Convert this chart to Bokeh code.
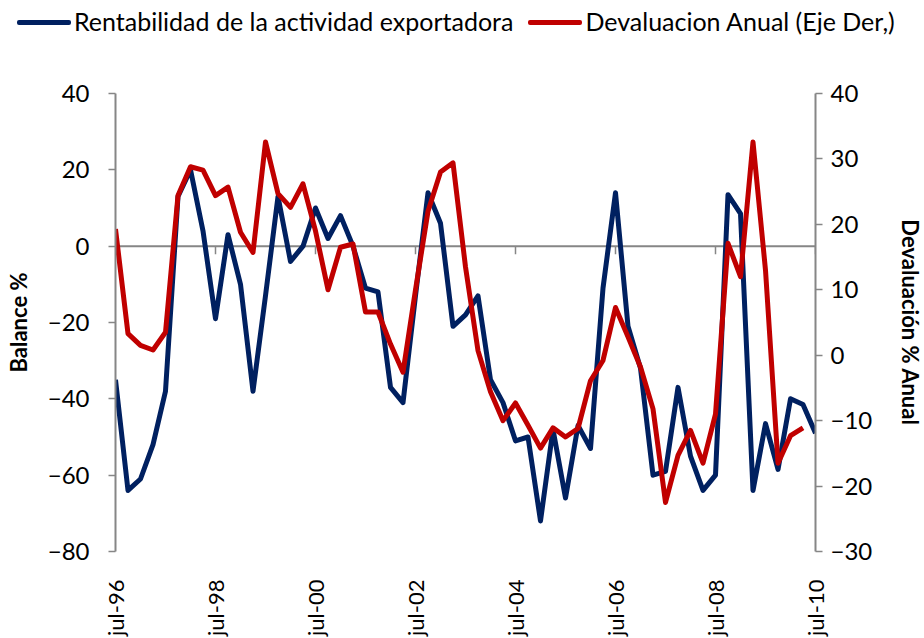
import math
from bokeh.plotting import figure
from bokeh.layouts import column
from bokeh.models import Range1d, LinearAxis, FixedTicker, Span, ColumnDataSource, Div
from bokeh.embed import file_html
from bokeh.resources import INLINE

# ---- data (quarterly, jul-96 .. jul-10) ----
tick_labels = ["jul-96", "jul-98", "jul-00", "jul-02", "jul-04", "jul-06", "jul-08", "jul-10"]
tick_step = 8  # quarters between labelled ticks

rentabilidad = [-35, -64, -61, -52, -38, 13, 20, 4, -19, 3,
                -10, -38, -13, 13, -4, 0, 10, 2, 8, 0,
                -11, -12, -37, -41, -13, 14, 6, -21, -18, -13,
                -35, -41, -51, -50, -72, -48, -66, -47, -53, -11,
                14, -21, -32, -60, -59, -37, -55, -64, -60, 13.5,
                8.5, -64, -46.5, -58.5, -40, -41.5, -49]

devaluacion = [19.3, 3.3, 1.5, 0.8, 3.5, 24.4, 28.8, 28.3, 24.4, 25.7,
               18.8, 15.7, 32.6, 24.7, 22.6, 26.2, 19, 10, 16.5, 17,
               6.6, 6.6, 1.7, -2.6, 10, 22, 28, 29.4, 13.5, 0.7,
               -5.6, -10, -7.3, -10.7, -14.2, -11.1, -12.5, -11.2, -3.9, -0.8,
               7.3, 2.8, -1.8, -8.2, -22.5, -15.3, -11.5, -16.5, -9, 17.1,
               12, 32.6, 13, -16.5, -12.3, -11.1]

series_names = ["Rentabilidad de la actividad exportadora", "Devaluacion Anual (Eje Der,)"]
left_title = "Balance %"
right_title = "Devaluación % Anual"

FONT = "Lato"
GRAY = "#868686"
BLUE = "#002060"
RED = "#C00000"
LW = 5

x_blue = list(range(len(rentabilidad)))
x_red = list(range(len(devaluacion)))
ticks = [i * tick_step for i in range(len(tick_labels))]

LEG_H = 44
TOTAL_W = 924

# ---------------- main chart ----------------
p = figure(frame_width=700, frame_height=458, output_backend="svg", toolbar_location=None,
           x_range=Range1d(0, len(rentabilidad) - 1), y_range=Range1d(-80, 40),
           min_border_left=115, min_border_right=TOTAL_W - 815, min_border_top=93 - LEG_H,
           min_border_bottom=85)
p.outline_line_color = None
p.xgrid.visible = False
p.ygrid.visible = False
p.background_fill_color = "white"
p.border_fill_color = "white"

p.extra_y_ranges = {"right": Range1d(-30, 40)}

# zero line (category axis crossing) with its tick marks
zero = Span(location=0, dimension="width", line_color=GRAY, line_width=2, level="underlay")
p.add_layout(zero)
tick_src = ColumnDataSource(dict(x=ticks, y0=[0] * len(ticks), y1=[-2.1] * len(ticks)))
p.segment(x0="x", y0="y0", x1="x", y1="y1", source=tick_src, line_color=GRAY, line_width=1.5,
          level="underlay")

r1 = p.line(x_blue, rentabilidad, line_color=BLUE, line_width=LW, line_join="round")
r2 = p.line(x_red, devaluacion, line_color=RED, line_width=LW, line_join="round",
            y_range_name="right")

# x axis: labels only
xa = p.xaxis[0]
xa.ticker = FixedTicker(ticks=ticks)
xa.major_label_overrides = {t: l for t, l in zip(ticks, tick_labels)}
xa.major_label_orientation = math.pi / 2
xa.axis_line_color = None
xa.major_tick_line_color = None
xa.minor_tick_line_color = None
xa.major_label_standoff = 22
xa.major_label_text_font = FONT
xa.major_label_text_font_size = "22px"
xa.major_label_text_color = "black"


def style_y(ax, standoff, title, title_standoff):
    ax.axis_line_color = GRAY
    ax.axis_line_width = 2
    ax.major_tick_line_color = GRAY
    ax.major_tick_line_width = 1.5
    ax.major_tick_out = 7
    ax.major_tick_in = 0
    ax.minor_tick_line_color = None
    ax.major_label_standoff = standoff
    ax.major_label_text_font = FONT
    ax.major_label_text_font_size = "24px"
    ax.major_label_text_color = "black"
    ax.axis_label = title
    ax.axis_label_text_font = FONT
    ax.axis_label_text_font_style = "bold"
    ax.axis_label_text_font_size = "22px"
    ax.axis_label_text_color = "black"
    ax.axis_label_standoff = title_standoff


ya = p.yaxis[0]
ya.ticker = FixedTicker(ticks=[-80, -60, -40, -20, 0, 20, 40])
style_y(ya, 19, left_title, 13)

ra = LinearAxis(y_range_name="right", ticker=FixedTicker(ticks=[-30, -20, -10, 0, 10, 20, 30, 40]))
style_y(ra, 8, right_title, 22)
p.add_layout(ra, "right")

# ---------------- legend strip (HTML) ----------------
def item(color, label, gap_after):
    return (f'<span style="display:inline-block;width:54px;height:5px;background:{color};'
            f'border-radius:2px;"></span>'
            f'<span style="margin-left:3px;margin-right:{gap_after}px;">{label}</span>')


legend_html = (f'<div style="display:flex;align-items:center;height:{LEG_H}px;padding-left:17px;'
               f'font-family:{FONT};font-size:25px;color:black;white-space:nowrap;">'
               + item(BLUE, series_names[0], 15) + item(RED, series_names[1], 0) + '</div>')
legend_div = Div(text=legend_html, width=TOTAL_W, height=LEG_H, margin=(0, 0, 0, 0))

layout = column(legend_div, p, spacing=0)
open("out.html", "w").write(file_html(layout, INLINE))
